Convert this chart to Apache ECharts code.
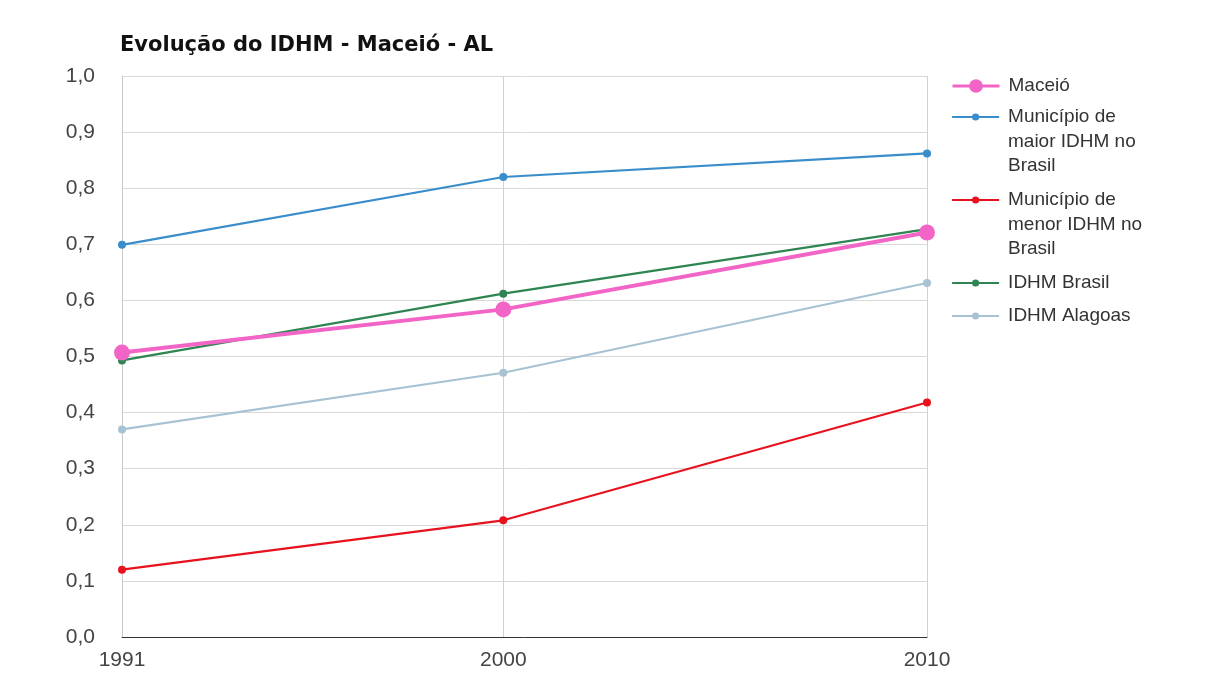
<!DOCTYPE html>
<html><head><meta charset="utf-8">
<script src="https://cdn.jsdelivr.net/npm/echarts@6/dist/echarts.min.js"></script>
<style>html,body{margin:0;padding:0;background:#fff}#c{width:1217px;height:684px}</style>
</head><body><div id="c"></div>
<script>
const years = [1991, 2000, 2010];
const maceio = [0.507, 0.584, 0.721];
const maiorIDHM = [0.699, 0.820, 0.862];
const menorIDHM = [0.120, 0.208, 0.418];
const idhmBrasil = [0.493, 0.612, 0.727];
const idhmAlagoas = [0.370, 0.471, 0.631];
const yTicks = { min: 0, max: 1, interval: 0.1 };

const names = ['Maceió', 'Município de maior IDHM no Brasil', 'Município de menor IDHM no Brasil', 'IDHM Brasil', 'IDHM Alagoas'];
const legendLines = [
  ['Maceió'],
  ['Município de', 'maior IDHM no', 'Brasil'],
  ['Município de', 'menor IDHM no', 'Brasil'],
  ['IDHM Brasil'],
  ['IDHM Alagoas']
];
const colors = ['#f264c6', '#3a8dcb', '#e8121f', '#2f8552', '#a7c3d3'];
const values = [maceio, maiorIDHM, menorIDHM, idhmBrasil, idhmAlagoas];

const font = 'Liberation Sans, Arial, sans-serif';
const legendCenters = [86, 117, 200, 283, 316];
const lineH = 24.5;
const legendX = 951;
const textX = 1008;

const legends = names.map((n, i) => ({
  orient: 'vertical',
  left: legendX,
  top: legendCenters[i] - 12,
  padding: 0,
  itemWidth: 47,
  itemHeight: i === 0 ? 17 : 9,
  lineStyle: { width: i === 0 ? 3 : 2.2 },
  data: [n],
  formatter: () => legendLines[i][0],
  textStyle: { fontFamily: font, fontSize: 19, color: '#333', lineHeight: 24, padding: [0, 0, 0, 4] }
}));

const graphics = [];
legendLines.forEach((lines, i) => {
  if (lines.length > 1) {
    graphics.push({
      type: 'text',
      left: textX,
      top: legendCenters[i] + lineH - 12,
      style: {
        text: lines.slice(1).join('\n'),
        font: '19px ' + font,
        fill: '#333',
        lineHeight: lineH
      }
    });
  }
});

const chart = echarts.init(document.getElementById('c'));
chart.setOption({
  animation: false,
  title: {
    text: 'Evolução do IDHM - Maceió - AL',
    left: 115, top: 30,
    textStyle: { fontFamily: 'DejaVu Sans', fontSize: 21, fontWeight: 'bold', color: '#111' }
  },
  legend: legends,
  graphic: graphics,
  grid: { left: 122, right: 290, top: 76, bottom: 47, containLabel: false },
  xAxis: {
    type: 'value',
    min: years[0], max: years[years.length - 1],
    axisLine: { onZero: false, lineStyle: { color: '#333', width: 1 } },
    axisTick: { show: false, customValues: years },
    axisLabel: { customValues: years, fontFamily: font, fontSize: 21, color: '#444', margin: 13, formatter: v => String(v) },
    splitLine: { show: true, lineStyle: { color: '#d0d0d0' } }
  },
  yAxis: {
    type: 'value',
    min: yTicks.min, max: yTicks.max, interval: yTicks.interval,
    axisLine: { show: true, lineStyle: { color: '#c8c8c8' } },
    axisTick: { show: false },
    axisLabel: {
      fontFamily: font, fontSize: 21, color: '#444', margin: 27,
      formatter: v => v.toFixed(1).replace('.', ',')
    },
    splitLine: { show: true, lineStyle: { color: '#d8d8d8' } }
  },
  series: names.map((n, i) => ({
    name: n,
    type: 'line',
    data: years.map((y, k) => [y, values[i][k]]),
    color: colors[i],
    symbol: 'circle',
    symbolSize: i === 0 ? 16 : 8,
    lineStyle: { width: i === 0 ? 4 : 2.2 },
    z: i === 0 ? 3 : 2
  }))
});
</script></body></html>
